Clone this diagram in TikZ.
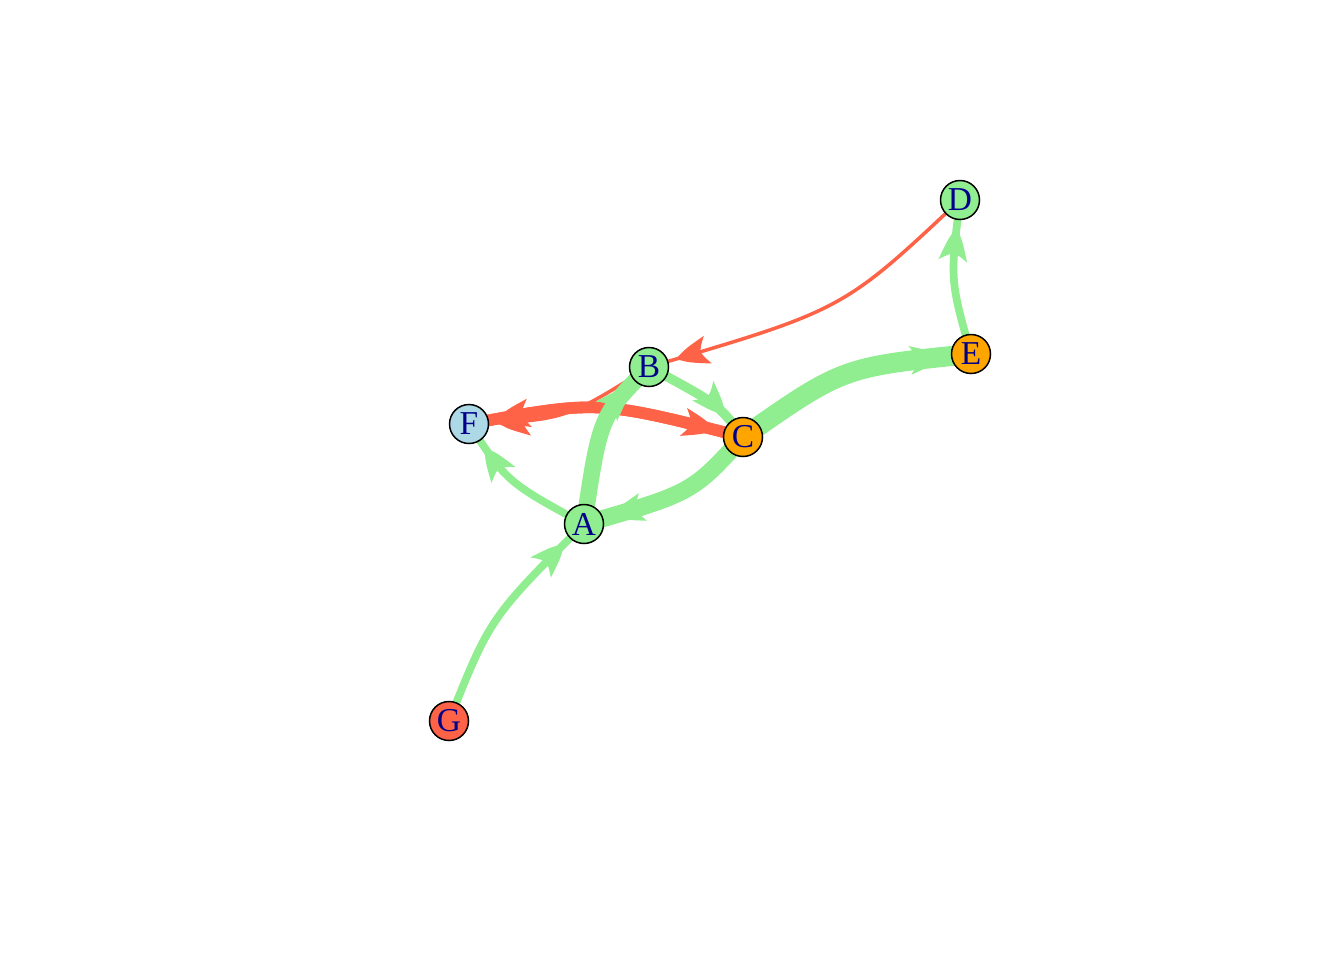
\documentclass[tikz,border=0pt]{standalone}
\usepackage{fontspec}
\setmainfont{Liberation Serif}
\usetikzlibrary{decorations.markings, backgrounds}

\definecolor{lgreen}{HTML}{90EE90}
\definecolor{tomato}{HTML}{FF6347}
\definecolor{vorange}{HTML}{FFA500}
\definecolor{lblue}{HTML}{ADD8E6}
\definecolor{navytext}{HTML}{00008B}

\begin{document}
\begin{tikzpicture}[x=0.02cm, y=-0.02cm,
    vertex/.style={circle, draw=black, line width=0.85pt, minimum size=0.78cm,
        inner sep=0pt, text=navytext, font=\fontsize{19}{22}\selectfont},
    midarrow/.style={postaction={decorate}, decoration={markings,
        mark=at position -0.56cm with {\fill[#1] (0pt,0pt) .. controls (-7pt,4.2pt) .. (-19pt,8.2pt)
            .. controls (-13.5pt,0pt) .. (-19pt,-8.2pt) .. controls (-7pt,-4.2pt) .. (0pt,0pt);}}},
    greenlink/.style={draw=lgreen, line width=#1, midarrow=lgreen},
    redlink/.style={draw=tomato, line width=#1, midarrow=tomato}]
    \useasboundingbox (0,0) rectangle (1344,960);

    \node[vertex, fill=lgreen] (A) at (584,524) {A};
    \node[vertex, fill=lgreen] (B) at (649,367) {B};
    \node[vertex, fill=vorange] (C) at (743,437) {C};
    \node[vertex, fill=lgreen] (D) at (960,200) {D};
    \node[vertex, fill=vorange] (E) at (971,354) {E};
    \node[vertex, fill=lblue] (F) at (469,424) {F};
    \node[vertex, fill=tomato] (G) at (449,721) {G};

    \begin{scope}[on background layer]
        % red links
        \draw[redlink=6.6pt] (F.center) .. controls (598,400) .. (C.center);
        \draw[redlink=6.6pt] (C.center) .. controls (598,400) .. (F.center);
        \draw[redlink=2pt] (B.center) .. controls (565,420) .. (F.center);
        \draw[redlink=2pt] (D.center) .. controls (843,310) .. (B.center);
        % green links
        \draw[greenlink=4.4pt] (G.center) .. controls (490,618) .. (A.center);
        \draw[greenlink=4.4pt] (A.center) .. controls (507,482) .. (F.center);
        \draw[greenlink=9.4pt] (A.center) .. controls (600,416) .. (B.center);
        \draw[greenlink=9.8pt] (C.center) .. controls (692,493) .. (A.center);
        \draw[greenlink=5.4pt] (B.center) .. controls (718,404) .. (C.center);
        \draw[greenlink=11.4pt] (C.center) .. controls (843,367) .. (E.center);
        \draw[greenlink=4.4pt] (E.center) .. controls (950,280) .. (D.center);
    \end{scope}
\end{tikzpicture}
\end{document}
